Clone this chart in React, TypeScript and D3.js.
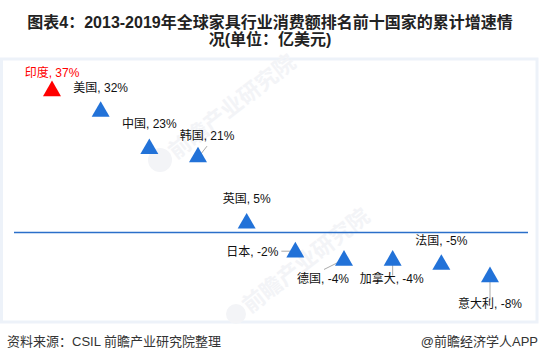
import React from "react";
import * as d3 from "d3";

const countries = ["印度", "美国", "中国", "韩国", "英国", "日本", "德国", "加拿大", "法国", "意大利"];
const growth = [37, 32, 23, 21, 5, -2, -4, -4, -5, -8];
const highlight = ["印度"];
const baselineValue = 2.5;
const titleLines = ["图表4：2013-2019年全球家具行业消费额排名前十国家的累计增速情", "况(单位：亿美元)"];
const sourceText = "资料来源：CSIL 前瞻产业研究院整理";
const brandText = "@前瞻经济学人APP";
const watermarkText = "前瞻产业研究院";

// label layout relative to marker: dx, dy (baseline), anchor, leader [x1,y1,x2,y2] or null
const labelLayout: [number, number, string, number[] | null][] = [
  [0, -13, "middle", null],
  [0, -19, "middle", null],
  [0, -20, "middle", null],
  [9, -16, "middle", [2, -1, 9, -10]],
  [0, -19.5, "middle", null],
  [-17, 5, "end", [-14, 0, -5, 0]],
  [-21, 24, "middle", [-6, 3, -20, 10]],
  [-1, 24, "middle", [0, 0, 0, 16]],
  [0, -19, "middle", null],
  [0, 32, "middle", [0, 0, 0, 24]],
];

const W = 540;
const H = 363;
const FONT = "'Liberation Sans', Arial, 'Noto Sans CJK SC', sans-serif";

export default function App() {
  const x = d3.scalePoint<string>().domain(countries).range([52, 490]);
  const ext = d3.extent(growth) as [number, number];
  const y = d3.scaleLinear().domain(ext).range([276, 90]);
  const tri = d3.symbol().type(d3.symbolTriangle).size(140)() as string;

  return (
    <svg width={W} height={H} style={{ position: "absolute", left: 0, top: 0, background: "#fff" }} fontFamily={FONT}>
      {titleLines.map((t, i) => (
        <text key={i} x={270} y={28 + i * 16.5} textAnchor="middle" fontSize={16} fontWeight="bold" fill="#222">
          {t}
        </text>
      ))}
      <rect x={1.5} y={59} width={535.5} height={263} fill="none" stroke="#edf2f9" strokeWidth={3} />
      {/* watermarks */}
      <g fill="#f3f4f7" fontSize={22} fontWeight="bold">
        <circle cx={160} cy={160} r={12} />
        <text transform="translate(176,160) rotate(-38)">{watermarkText}</text>
        <circle cx={236} cy={314} r={10} />
        <text transform="translate(250,314) rotate(-38)">{watermarkText}</text>
      </g>
      <line x1={14} x2={528} y1={y(baselineValue)} y2={y(baselineValue)} stroke="#2b6fc9" strokeWidth={1.5} />
      {countries.map((c, i) => {
        const cx = x(c) as number;
        const cy = y(growth[i]);
        const [dx, dy, anchor, leader] = labelLayout[i];
        const hot = highlight.includes(c);
        return (
          <g key={c}>
            {leader && (
              <line x1={cx + leader[0]} y1={cy + leader[1]} x2={cx + leader[2]} y2={cy + leader[3]} stroke="#aaa" strokeWidth={1} />
            )}
            <path d={tri} transform={`translate(${cx},${cy + 1})`} fill={hot ? "#ff0000" : "#2272d8"} />
            <text x={cx + dx} y={cy + dy} textAnchor={anchor as any} fontSize={12} fill={hot ? "#ff0000" : "#111"}>
              {`${c}, ${growth[i]}%`}
            </text>
          </g>
        );
      })}
      <text x={7} y={346} fontSize={13} fill="#333">{sourceText}</text>
      <text x={538} y={346} fontSize={13} fill="#333" textAnchor="end">{brandText}</text>
    </svg>
  );
}
